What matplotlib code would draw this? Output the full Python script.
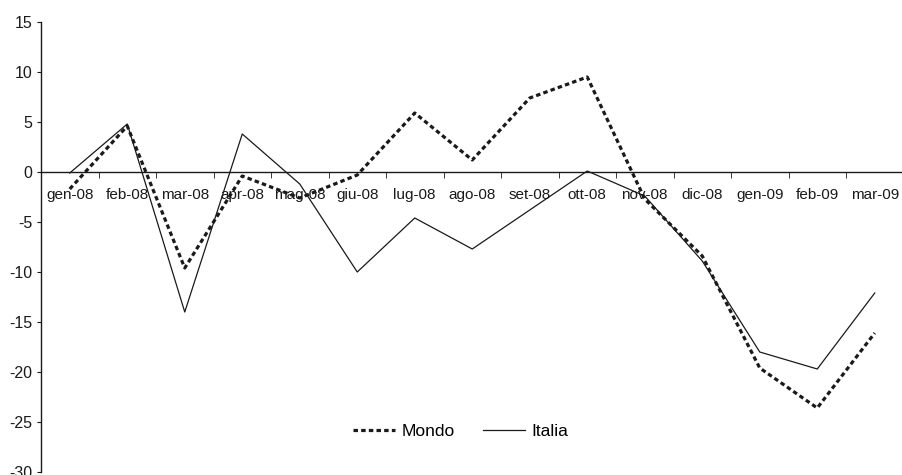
import matplotlib
matplotlib.use('Agg')
import matplotlib.pyplot as plt
from matplotlib.ticker import FixedLocator, FuncFormatter
import numpy as np

months = ['gen-08', 'feb-08', 'mar-08', 'apr-08', 'mag-08', 'giu-08', 'lug-08',
          'ago-08', 'set-08', 'ott-08', 'nov-08', 'dic-08', 'gen-09', 'feb-09', 'mar-09']
mondo = [-1.7, 4.6, -9.6, -0.4, -2.6, -0.3, 5.9, 1.2, 7.4, 9.5, -2.7, -8.4, -19.6, -23.6, -16.1]
italia = [-0.1, 4.8, -14.0, 3.8, -1.2, -10.0, -4.6, -7.7, -3.8, 0.1, -2.4, -8.9, -18.0, -19.7, -12.1]
yticks = [-30, -25, -20, -15, -10, -5, 0, 5, 10, 15]

plt.rcParams['font.family'] = ['Liberation Sans', 'DejaVu Sans']
ink = '#1a1a1a'

fig = plt.figure(figsize=(9.02, 4.75), dpi=100)
ax = fig.add_axes([41 / 902, 3 / 475, 862.5 / 902, 450 / 475])

x = np.arange(len(months))
ax.plot(x, mondo, color=ink, lw=2.3, linestyle=(0, (1.4, 1.0)),
        dash_capstyle='butt', label='Mondo')
ax.plot(x, italia, color=ink, lw=0.9, label='Italia')

ax.set_xlim(-0.5, len(months) - 0.5)
ax.set_ylim(-30, 15)

for s in ['top', 'right']:
    ax.spines[s].set_visible(False)
ax.spines['bottom'].set_position(('data', 0))
ax.spines['bottom'].set_linewidth(1.0)
ax.spines['left'].set_linewidth(1.0)
ax.spines['bottom'].set_color(ink)
ax.spines['left'].set_color(ink)

ax.set_xticks(x)
ax.set_xticklabels(months, fontsize=11, color=ink)
ax.xaxis.set_minor_locator(FixedLocator(np.arange(len(months) + 1) - 0.5))
ax.tick_params(axis='x', which='major', length=0, pad=11.5)
ax.tick_params(axis='x', which='minor', length=4, direction='out', color=ink)

ax.set_yticks(yticks)
ax.yaxis.set_major_formatter(FuncFormatter(lambda v, p: '%d' % v))
ax.tick_params(axis='y', length=3, direction='out', pad=3, labelsize=11.5,
               color=ink, labelcolor=ink)

# legend sits low, roughly level with the -25 tick
ax.legend(loc='center', bbox_to_anchor=(461 / 902, 1 - 431 / 475),
          bbox_transform=fig.transFigure, ncol=2, frameon=False,
          fontsize=12.5, handlelength=2.4, columnspacing=1.6, handletextpad=0.4)

fig.savefig('out.png', dpi=100)
